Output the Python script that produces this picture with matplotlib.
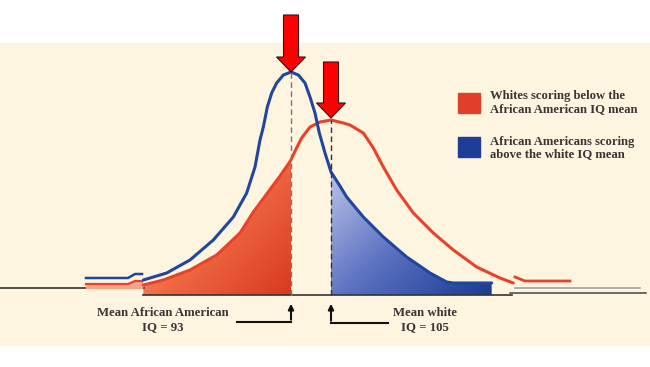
import numpy as np
import matplotlib
matplotlib.use("Agg")
import matplotlib.pyplot as plt
from matplotlib.patches import Polygon, FancyArrow, Rectangle
from matplotlib.colors import LinearSegmentedColormap

# curves (IQ, relative frequency)
blue_iq = [48.7, 55.7, 62.7, 69.7, 75.7, 79.7, 82.2, 83.7, 84.7, 85.9, 87.2, 88.7,
           90.7, 93.0, 95.2, 97.2, 98.7, 100.2, 101.5, 103.2, 105.0, 107.7, 109.7,
           114.7, 120.7, 127.7, 134.7, 139.7, 141.7, 153.2]
blue_y = [1.5, 2.2, 3.5, 5.5, 7.8, 10.2, 12.8, 15.5, 16.8, 18.8, 20.2, 21.2,
          22.0, 22.3, 22.0, 21.2, 19.8, 18.2, 16.2, 14.2, 12.3, 10.9, 9.8,
          7.8, 5.8, 3.8, 2.2, 1.3, 1.2, 1.2]
red_iq = [48.7, 54.7, 62.7, 70.7, 77.7, 81.7, 85.7, 89.7, 93.0, 94.5, 96.2, 98.7,
          101.7, 105.0, 108.7, 110.7, 114.7, 117.7, 120.7, 124.7, 129.7, 135.7,
          141.7, 148.7, 155.7, 159.7]
red_y = [1.0, 1.5, 2.5, 4.0, 6.2, 8.3, 10.1, 11.9, 13.5, 14.6, 15.7, 16.8,
         17.3, 17.5, 17.2, 17.0, 16.2, 14.7, 12.8, 10.5, 8.2, 6.2,
         4.5, 2.8, 1.7, 1.2]
mean_aa = 93
mean_white = 105
peak_blue = 22.3
peak_red = 17.5

# small tail pieces at both ends
left_stub_iq = [31.5, 44.1, 46.2, 48.3]
left_stub_blue = [1.7, 1.7, 2.1, 2.1]
left_stub_red = [1.1, 1.1, 1.4, 1.4]
right_stub_iq = [160.2, 163.2, 176.7]
right_stub_red = [1.8, 1.4, 1.4]

BLUE = "#22459e"
RED = "#e8432a"
TXT = "#3a3434"

fig = plt.figure(figsize=(6.5, 3.67), dpi=100)
fig.patch.set_facecolor("white")
ax = fig.add_axes([0, 0, 1, 1])
ax.set_xlim(5.7, 200.7)
ax.set_ylim(-7.2, 29.5)
ax.axis("off")

# cream paper
ax.axhspan(-5.0, 25.2, color="#fdf5e0", zorder=0)

# baselines
ax.plot([5.7, 49.0], [0.7, 0.7], color="#333", lw=1.2, zorder=2)
ax.plot([48.6, 159.3], [0, 0], color="#333", lw=1.2, zorder=2)
ax.plot([158.7, 199.5], [0.2, 0.2], color="#444", lw=1.1, zorder=2)
ax.plot([160.2, 197.7], [0.7, 0.7], color="#999", lw=1.1, zorder=2)

# gradient fills
def grad_fill(xs, ys, cmap):
    poly = Polygon(list(zip(xs, ys)), closed=True, facecolor="none", edgecolor="none")
    ax.add_patch(poly)
    gx, gy = np.meshgrid(np.linspace(0, 1, 200), np.linspace(0, 1, 200))
    t = 0.55 * gx + 0.45 * (1 - gy)
    im = ax.imshow(t, origin="lower", cmap=cmap, aspect="auto",
                   extent=[min(xs), max(xs), min(ys), max(ys)], zorder=1, vmin=0, vmax=1)
    im.set_clip_path(poly)

red_cmap = LinearSegmentedColormap.from_list("r", ["#fbd0bb", "#ef6a45", "#d93a1c"])
blue_cmap = LinearSegmentedColormap.from_list("b", ["#b9c2ea", "#5a70c0", "#1b3b94"])

rx = [x for x in red_iq if x <= mean_aa]
ry = red_y[:len(rx)]
grad_fill(rx + [mean_aa, rx[0]], ry + [0, 0], red_cmap)

bx = [x for x in blue_iq if x >= mean_white]
by = blue_y[-len(bx):]
grad_fill([mean_white] + bx + [bx[-1]], [0] + by + [0], blue_cmap)

# left stub
ax.fill_between(left_stub_iq, 0.7, left_stub_red, color="#f2a58a", zorder=2)
ax.plot(left_stub_iq, left_stub_red, color=RED, lw=1.6, zorder=3)
ax.plot(left_stub_iq, left_stub_blue, color=BLUE, lw=1.8, zorder=3)
ax.plot(right_stub_iq, right_stub_red, color=RED, lw=2.0, zorder=3)

# curves
ax.plot(red_iq, red_y, color=RED, lw=2.2, zorder=4,
        solid_capstyle="round", solid_joinstyle="round")
ax.plot(blue_iq, blue_y, color=BLUE, lw=2.2, zorder=5,
        solid_capstyle="round", solid_joinstyle="round")

# dashed mean lines
ax.plot([mean_aa, mean_aa], [0, peak_blue], color="#777", lw=1.0, ls=(0, (4, 2.5)), zorder=6)
ax.plot([mean_white, mean_white], [0, peak_red], color="#333", lw=1.0, ls=(0, (4, 2.5)), zorder=6)

# big red arrows
for x, tip, top in [(mean_aa, peak_blue, 28.0), (mean_white, 17.7, 23.3)]:
    ax.add_patch(FancyArrow(x, top, 0, tip - top, width=4.5, head_width=8.7,
                            head_length=1.5, length_includes_head=True,
                            facecolor="#ff0000", edgecolor="#3a1010", lw=0.8, zorder=8))

# mean labels with connectors
ax.plot([76.8, mean_aa], [-2.7, -2.7], color="#111", lw=1.5, zorder=6)
ax.annotate("", xy=(mean_aa, -0.6), xytext=(mean_aa, -2.75),
            arrowprops=dict(arrowstyle="-|>", color="#111", lw=1.5, mutation_scale=8), zorder=6)
ax.plot([mean_white, 122.1], [-2.8, -2.8], color="#111", lw=1.5, zorder=6)
ax.annotate("", xy=(mean_white, -0.6), xytext=(mean_white, -2.85),
            arrowprops=dict(arrowstyle="-|>", color="#111", lw=1.5, mutation_scale=8), zorder=6)

font = dict(family="Liberation Serif", color=TXT, fontweight="bold")
ax.text(54.5, -2.5, "Mean African American\nIQ = 93", ha="center", va="center",
        fontsize=9.2, linespacing=1.15, **font)
ax.text(133.2, -2.5, "Mean white\nIQ = 105", ha="center", va="center",
        fontsize=9.2, linespacing=1.15, **font)

# legend
ax.add_patch(Rectangle((143.1, 18.2), 6.6, 2.0, color="#e0402a", zorder=6))
ax.add_patch(Rectangle((143.1, 13.8), 6.6, 2.0, color="#1d3e98", zorder=6))
ax.text(152.7, 19.25, "Whites scoring below the\nAfrican American IQ mean", ha="left",
        va="center", fontsize=9.1, linespacing=1.05, **font)
ax.text(152.7, 14.7, "African Americans scoring\nabove the white IQ mean", ha="left",
        va="center", fontsize=9.1, linespacing=1.05, **font)

fig.savefig("out.png", dpi=100, facecolor="white")
